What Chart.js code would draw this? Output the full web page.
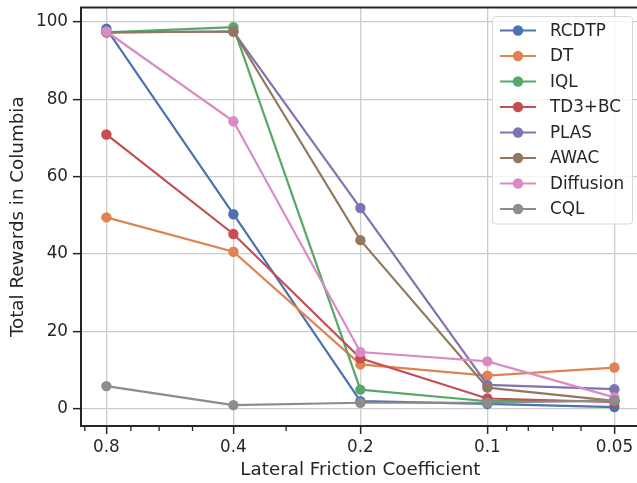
<!DOCTYPE html>
<html>
<head>
<meta charset="utf-8">
<script src="https://cdn.jsdelivr.net/npm/chart.js@4.4.1/dist/chart.umd.min.js"></script>
<style>
  html, body { margin: 0; padding: 0; background: #fff; overflow: hidden; }
  #wrap { position: relative; width: 645px; height: 483px; }
</style>
</head>
<body>
<div id="wrap"><canvas id="c"></canvas></div>
<script>
// ---- data ----
const frictions = [0.8, 0.4, 0.2, 0.1, 0.05];
const xTickLabels = ["0.8", "0.4", "0.2", "0.1", "0.05"];
const xMinorTicks = [0.9, 0.7, 0.6, 0.5, 0.3, 0.09, 0.08, 0.07, 0.06];
const yTicks = [0, 20, 40, 60, 80, 100];
const seriesNames = ["RCDTP", "DT", "IQL", "TD3+BC", "PLAS", "AWAC", "Diffusion", "CQL"];
const rcdtp     = [98.2, 50.3, 2.0, 1.3, 0.5];
const dt        = [49.5, 40.6, 11.5, 8.6, 10.7];
const iql       = [97.3, 98.6, 5.0, 2.0, 2.0];
const td3bc     = [70.9, 45.2, 13.1, 2.7, 1.8];
const plas      = [97.3, 97.5, 51.9, 6.2, 5.1];
const awac      = [97.3, 97.5, 43.6, 5.5, 2.1];
const diffusion = [97.5, 74.3, 14.7, 12.3, 3.0];
const cql       = [5.9, 1.0, 1.6, 1.6, 2.2];
const seriesValues = [rcdtp, dt, iql, td3bc, plas, awac, diffusion, cql];
const colors = ["#4C72B0", "#DD8452", "#55A868", "#C44E52", "#8172B3", "#937860", "#DA8BC3", "#8C8C8C"];

const TEXT = "#262626";
const FONT = "'DejaVu Sans', sans-serif";
const TICK_SIZE = 16.8;
const LABEL_SIZE = 18.3;
const RADIUS = 5.2;

const datasets = seriesNames.map((name, i) => ({
  label: name,
  data: frictions.map((f, j) => ({ x: f, y: seriesValues[i][j] })),
  borderColor: colors[i],
  backgroundColor: colors[i],
  pointBackgroundColor: colors[i],
  pointBorderColor: colors[i],
  pointBorderWidth: 0,
  pointRadius: RADIUS,
  borderWidth: 2.2,
  tension: 0,
  order: seriesNames.length - i
}));

const frameAndMinor = {
  id: 'frameAndMinor',
  afterDraw(chart) {
    const ctx = chart.ctx;
    const a = chart.chartArea;
    const xs = chart.scales.x;
    ctx.save();
    ctx.strokeStyle = TEXT;
    ctx.lineWidth = 1.9;
    ctx.beginPath();
    ctx.moveTo(a.left, a.bottom);
    ctx.lineTo(a.left, a.top);
    ctx.lineTo(a.right, a.top);
    ctx.lineTo(a.right, a.bottom);
    ctx.stroke();
    // minor ticks
    ctx.lineWidth = 1.3;
    ctx.beginPath();
    xMinorTicks.forEach(v => {
      const px = xs.getPixelForValue(v);
      ctx.moveTo(px, a.bottom);
      ctx.lineTo(px, a.bottom + 5);
    });
    ctx.stroke();
    ctx.restore();
  }
};

const boxLegend = {
  id: 'boxLegend',
  afterDraw(chart) {
    const ctx = chart.ctx;
    const x0 = 492.5, y0 = 16.5, w = 140, h = 207.5;
    ctx.save();
    ctx.fillStyle = "rgba(255,255,255,0.8)";
    ctx.strokeStyle = "#d8d8d8";
    ctx.lineWidth = 1;
    ctx.beginPath();
    ctx.roundRect(x0, y0, w, h, 3);
    ctx.fill();
    ctx.stroke();
    ctx.font = TICK_SIZE + "px " + FONT;
    ctx.textBaseline = "middle";
    ctx.textAlign = "left";
    chart.data.datasets.forEach((ds, i) => {
      const yy = 30.5 + i * 25.5;
      ctx.strokeStyle = ds.borderColor;
      ctx.lineWidth = 2.2;
      ctx.beginPath();
      ctx.moveTo(500, yy);
      ctx.lineTo(536, yy);
      ctx.stroke();
      ctx.fillStyle = ds.borderColor;
      ctx.beginPath();
      ctx.arc(518, yy, RADIUS, 0, Math.PI * 2);
      ctx.fill();
      ctx.fillStyle = TEXT;
      ctx.fillText(ds.label, 550, yy + 1);
    });
    ctx.restore();
  }
};

function zeroPad(scale) {
  scale.paddingTop = 0; scale.paddingBottom = 0;
  scale.paddingLeft = 0; scale.paddingRight = 0;
}

new Chart(document.getElementById('c'), {
  type: 'line',
  data: { datasets },
  plugins: [frameAndMinor, boxLegend],
  options: {
    responsive: true,
    maintainAspectRatio: false,
    animation: false,
    devicePixelRatio: 1,
    layout: { padding: { top: 7.5, right: 2, left: 0, bottom: 0 } },
    plugins: { legend: { display: false }, tooltip: { enabled: false } },
    scales: {
      x: {
        type: 'logarithmic',
        reverse: true,
        min: 0.05 / Math.pow(2, 0.2),
        max: 0.8 * Math.pow(2, 0.2),
        afterBuildTicks(scale) { scale.ticks = frictions.map(v => ({ value: v })); },
        afterFit(scale) { scale.height = 57; zeroPad(scale); },
        ticks: {
          autoSkip: false,
          maxRotation: 0,
          padding: 4,
          color: TEXT,
          font: { family: FONT, size: TICK_SIZE },
          callback: (v) => xTickLabels[frictions.indexOf(v)]
        },
        grid: { color: "#cccccc", lineWidth: 1.3, tickColor: TEXT, tickLength: 8, tickWidth: 1.5 },
        border: { color: TEXT, width: 1.9 },
        title: {
          display: true, text: "Lateral Friction Coefficient", color: TEXT,
          font: { family: FONT, size: LABEL_SIZE }, padding: { top: 0, bottom: 2 }
        }
      },
      y: {
        type: 'linear',
        min: -4.4,
        max: 103.7,
        afterBuildTicks(scale) { scale.ticks = yTicks.map(v => ({ value: v })); },
        afterFit(scale) { scale.width = 81; zeroPad(scale); },
        ticks: {
          padding: 5,
          color: TEXT,
          font: { family: FONT, size: TICK_SIZE }
        },
        grid: { color: "#cccccc", lineWidth: 1.3, tickColor: TEXT, tickLength: 8, tickWidth: 1.5 },
        border: { color: TEXT, width: 1.9 },
        title: {
          display: true, text: "Total Rewards in Columbia", color: TEXT,
          font: { family: FONT, size: LABEL_SIZE }, padding: { top: 7, bottom: 0 }
        }
      }
    }
  }
});
</script>
</body>
</html>
